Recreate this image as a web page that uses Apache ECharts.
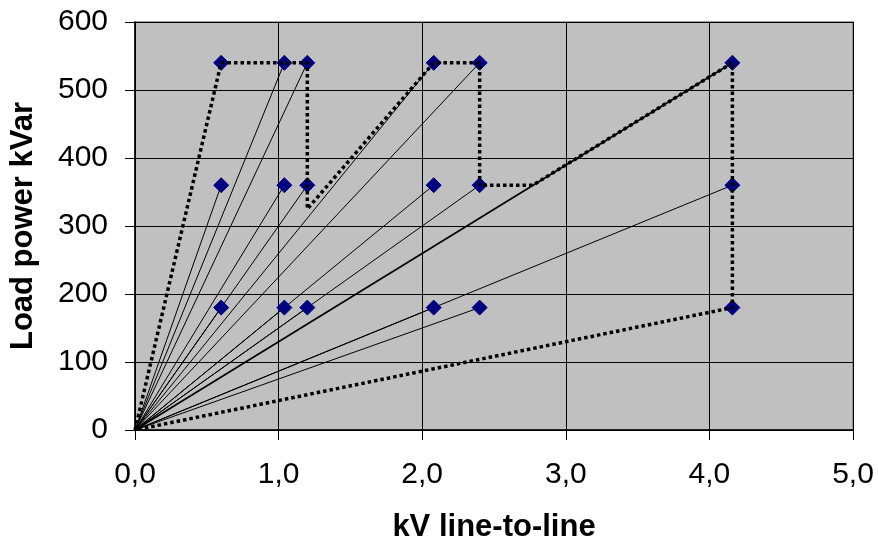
<!DOCTYPE html>
<html>
<head>
<meta charset="utf-8">
<script src="https://cdn.jsdelivr.net/npm/echarts@6/dist/echarts.min.js"></script>
<style>html,body{margin:0;padding:0;background:#fff}#c{width:878px;height:550px}</style>
</head>
<body>
<div id="c"></div>
<script>
// Data
const kvLevels = [0.6, 1.04, 1.2, 2.08, 2.4, 4.16];     // kV line-to-line
const kvarLevels = [180, 360, 540];                    // load power kVar
const envelopeX = [0, 0.6, 1.2, 1.2, 2.08, 2.4, 2.4, 2.77, 4.16, 4.16, 0];
const envelopeY = [0, 540, 540, 325, 540, 540, 360, 360, 540, 180, 0];
const thickRay = [4.16, 540];
const dottedRays = [[0.6, 540], [4.16, 180]];
const xTicks = [0, 1, 2, 3, 4, 5];
const yTicks = [0, 100, 200, 300, 400, 500, 600];

const FONT = "'Liberation Sans', Arial, sans-serif";
const points = [];
kvLevels.forEach(x => kvarLevels.forEach(y => points.push([x, y])));

const series = [];
points.forEach(p => {
  const isDotted = dottedRays.some(d => d[0] === p[0] && d[1] === p[1]);
  const isThick = p[0] === thickRay[0] && p[1] === thickRay[1];
  if (isDotted) return;
  series.push({
    type: 'line', data: [[0, 0], p], symbol: 'none', silent: true, z: isThick ? 3 : 2,
    lineStyle: { color: '#000', width: isThick ? 1.7 : 1 }
  });
});
series.push({
  type: 'line', data: envelopeX.map((x, i) => [x, envelopeY[i]]), symbol: 'none', z: 6,
  lineStyle: { color: '#000', width: 3.5, type: [3.5, 3], cap: 'butt' }
});
series.push({
  type: 'scatter', data: points, symbol: 'diamond', symbolSize: 15, z: 5,
  itemStyle: { color: '#000080', borderColor: '#000080', opacity: 1 }
});

const chart = echarts.init(document.getElementById('c'), null, { renderer: 'canvas' });
chart.setOption({
  animation: false,
  backgroundColor: '#fff',
  grid: { left: 135, right: 25, top: 22, bottom: 120, containLabel: false, outerBoundsMode: 'none',
          show: true, backgroundColor: '#C0C0C0', borderColor: '#808080', borderWidth: 1.5 },
  xAxis: {
    type: 'value', min: xTicks[0], max: xTicks[xTicks.length - 1], interval: 1,
    name: 'kV line-to-line', nameLocation: 'middle', nameGap: 82,
    nameTextStyle: { fontFamily: FONT, fontSize: 31, fontWeight: 'bold', color: '#000' },
    axisLine: { show: true, onZero: false, lineStyle: { color: '#000', width: 1.5 } },
    axisTick: { show: true, inside: false, length: 10, lineStyle: { color: '#000' } },
    axisLabel: { margin: 30, fontFamily: FONT, fontSize: 30, color: '#000', formatter: v => v.toFixed(1).replace('.', ',') },
    splitLine: { show: true, lineStyle: { color: '#000', width: 1 } }
  },
  yAxis: {
    type: 'value', min: yTicks[0], max: yTicks[yTicks.length - 1], interval: 100,
    name: 'Load power kVar', nameLocation: 'middle', nameGap: 96, nameRotate: 90,
    nameTextStyle: { fontFamily: FONT, fontSize: 31, fontWeight: 'bold', color: '#000' },
    axisLine: { show: true, onZero: false, lineStyle: { color: '#000', width: 1.5 } },
    axisTick: { show: true, inside: false, length: 10, lineStyle: { color: '#000' } },
    axisLabel: { margin: 27, fontFamily: FONT, fontSize: 30, color: '#000' },
    splitLine: { show: true, lineStyle: { color: '#000', width: 1 } }
  },
  series: series
});
</script>
</body>
</html>
